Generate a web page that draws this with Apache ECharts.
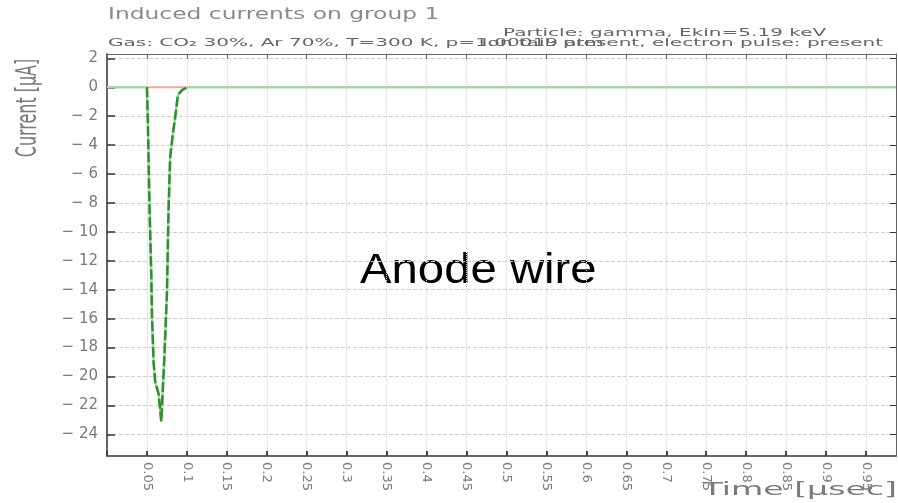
<!DOCTYPE html>
<html><head><meta charset="utf-8">
<script src="https://cdn.jsdelivr.net/npm/echarts@6/dist/echarts.min.js"></script>
<style>html,body{margin:0;padding:0;background:#fff}#c{width:898px;height:503px}</style>
</head><body><div id="c"></div>
<script>
// Data
const pulseTime = [0.05, 0.0511, 0.0533, 0.0554, 0.0562, 0.0583, 0.0604, 0.0646, 0.0679, 0.0716, 0.075, 0.077, 0.0791, 0.0825, 0.0854, 0.0887, 0.0937, 0.1008];
const pulseCurrent = [0, -2.3, -8.5, -12.9, -15.6, -19.0, -20.4, -21.2, -23.1, -18.9, -14.3, -8.5, -4.8, -3.2, -2.05, -0.55, -0.2, 0];
const baselineTime = [0, 0.9875];
const ionTailTime = [0.05, 0.1];
const ionTailCurrent = [0, 0];
const yTicks = [-24, -22, -20, -18, -16, -14, -12, -10, -8, -6, -4, -2, 0, 2];
const xMin = 0, xMax = 0.9875, yMin = -25.5, yMax = 2.3;

const totalData = [[baselineTime[0], 0]].concat(pulseTime.map((t, i) => [t, pulseCurrent[i]])).concat([[baselineTime[1], 0]]);
const electronData = pulseTime.map((t, i) => [t, pulseCurrent[i]]);
const ionData = ionTailTime.map((t, i) => [t, ionTailCurrent[i]]);

const gray = '#7a7a7a';
const chart = echarts.init(document.getElementById('c'));
const fmtX = v => {
  const r = Math.round(v * 100) / 100;
  if (r <= 0 || r > 0.96) return '';
  return String(r);
};
chart.setOption({
  animation: false,
  grid: {left: 107, right: 2, top: 54, bottom: 47},
  xAxis: [{
    type: 'value', min: xMin, max: xMax, interval: 0.05,
    axisLine: {onZero: false, lineStyle: {color: '#666', width: 2}},
    axisTick: {inside: true, length: 5, lineStyle: {color: '#444', width: 2}},
    axisLabel: {rotate: -90, color: gray, fontFamily: 'DejaVu Sans', fontSize: 13, formatter: fmtX, margin: 6, showMaxLabel: false},
    splitLine: {show: true, lineStyle: {color: '#d4d4d4', type: 'dotted', width: 1}}
  }, {
    type: 'value', min: xMin, max: xMax, interval: 0.05, position: 'top',
    axisLine: {onZero: false, lineStyle: {color: '#666', width: 1}},
    axisTick: {inside: true, length: 5, lineStyle: {color: '#666', width: 1}},
    axisLabel: {show: false}, splitLine: {show: false}
  }],
  yAxis: [{
    type: 'value', min: yMin, max: yMax,
    axisLine: {show: true, onZero: false, lineStyle: {color: '#666', width: 2}},
    axisTick: {show: true, inside: true, length: 8, customValues: yTicks, lineStyle: {color: '#333', width: 1.5}},
    axisLabel: {customValues: yTicks, color: gray, fontFamily: 'DejaVu Sans', fontSize: 15, margin: 9,
      formatter: v => (v < 0 ? '\u2212 ' + Math.abs(v) : String(v))},
    splitLine: {show: true, lineStyle: {color: '#d0d0d0', type: 'dashed', width: 1}}
  }, {
    type: 'value', min: yMin, max: yMax, position: 'right',
    axisLine: {show: true, onZero: false, lineStyle: {color: '#666', width: 1}},
    axisTick: {show: true, inside: true, length: 6, customValues: yTicks, lineStyle: {color: '#333', width: 1}},
    axisLabel: {show: false}, splitLine: {show: false}
  }],
  series: [
    {type: 'line', data: totalData, symbol: 'none', lineStyle: {color: '#a3d9a3', width: 2.5}, z: 2},
    {type: 'line', data: ionData, symbol: 'none', lineStyle: {color: '#f5a3a3', width: 2}, z: 3},
    {type: 'line', data: electronData, symbol: 'none', lineStyle: {color: '#2f8f2f', width: 2.5, type: [10, 3]}, z: 4}
  ],
  graphic: [
    {type: 'text', x: 108, y: 7, scaleX: 1.46, style: {text: 'Induced currents on group 1', fill: '#8a8a8a', font: '16px "DejaVu Sans"'}},
    {type: 'text', x: 503, y: 28, scaleX: 1.82, style: {text: 'Particle: gamma, Ekin=5.19 keV', fill: '#666', font: '11px "DejaVu Sans"'}},
    {type: 'text', x: 108, y: 38, scaleX: 1.82, style: {text: 'Gas: CO\u2082 30%, Ar 70%, T=300 K, p=1.00019 atm', fill: '#666', font: '11px "DejaVu Sans"'}},
    {type: 'text', x: 883, y: 38, scaleX: 1.82, style: {text: 'Ion tail: present, electron pulse: present', fill: '#666', font: '11px "DejaVu Sans"', align: 'right'}},
    {type: 'text', x: 28, y: 108, rotation: Math.PI / 2, scaleX: 0.55, style: {text: 'Current [μA]', fill: gray, font: '29px "DejaVu Sans"', align: 'center', verticalAlign: 'middle'}},
    {type: 'text', x: 897, y: 491, scaleX: 1.95, style: {text: 'Time [μsec]', fill: gray, font: '17px "DejaVu Sans"', align: 'right', verticalAlign: 'middle'}},
    {type: 'text', x: 360, y: 250, scaleX: 1.1, style: {text: 'Anode wire', fill: '#000', font: '43px "Liberation Sans"'}}
  ]
});
</script></body></html>
